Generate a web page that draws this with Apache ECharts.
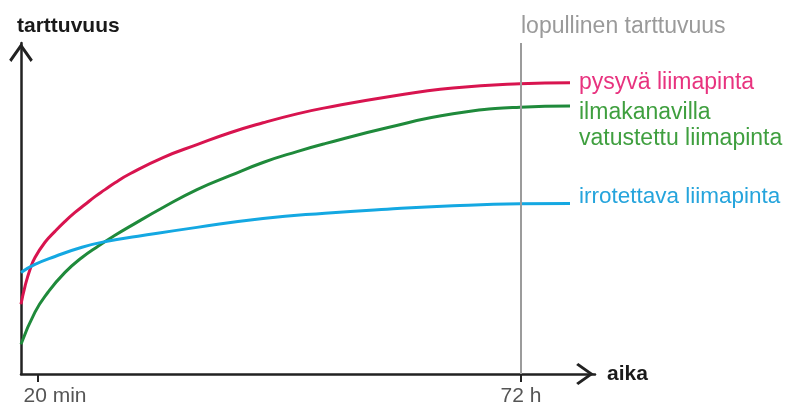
<!DOCTYPE html>
<html>
<head>
<meta charset="utf-8">
<script src="https://cdn.jsdelivr.net/npm/echarts@6/dist/echarts.min.js"></script>
<style>
html,body{margin:0;padding:0;background:#fff;}
#chart{width:785px;height:407px;}
</style>
</head>
<body>
<div id="chart"></div>
<script>
// ---- data ----
const seriesNames = ['pysyvä liimapinta', 'ilmakanavilla\nvatustettu liimapinta', 'irrotettava liimapinta'];

const xRed   = [0, 0.8, 1.8, 2.8, 4.8, 6.8, 8.8, 10.8, 12.8, 14.8, 16.8, 18.8, 21.8, 28.4, 35.2, 41.8, 48.4, 55.2, 60.8, 73.2, 86.4, 99.8, 109.8];
const yRed   = [21.1, 26.5, 31.6, 35.2, 39.8, 43.1, 46.1, 48.8, 51.2, 53.6, 55.7, 57.8, 60.5, 65.4, 69.3, 72.9, 75.9, 78.6, 80.4, 83.7, 86.4, 87.7, 88.0];

const xGreen = [0, 2.8, 5.4, 8.8, 12.2, 15.4, 18.8, 21.8, 28.4, 35.2, 41.8, 48.4, 55.2, 60.8, 73.2, 86.4, 99.8, 109.8];
const yGreen = [9.0, 18.7, 24.7, 30.7, 35.2, 38.6, 41.9, 44.6, 50.3, 55.7, 59.9, 63.9, 67.2, 69.6, 74.4, 78.6, 80.6, 81.0];

const xBlue  = [0, 2.8, 6.8, 12.2, 17.2, 23.4, 35.2, 48.4, 60.8, 73.2, 86.4, 99.8, 109.8];
const yBlue  = [30.7, 33.1, 35.5, 38.3, 40.1, 41.6, 44.3, 47.0, 48.6, 49.8, 50.8, 51.4, 51.5];

const tickValues = [3.4, 100];
const tickLabels = ['20 min', '72 h'];
const finalValue = 100;            // 72 h
const finalLabel = 'lopullinen tarttuvuus';
const xName = 'aika';
const yName = 'tarttuvuus';

// ---- helpers ----
function pairs(xs, ys){ return xs.map((x,i)=>[x, ys[i]]); }
const FONT = '"Liberation Sans", Arial, Helvetica, sans-serif';
const chevron = 'path://M0,17 L12,0 L24,17 L21.8,19.3 L12,5.4 L2.2,19.3 Z';

const chart = echarts.init(document.getElementById('chart'), null, {renderer:'canvas'});
const option = {
  animation: false,
  backgroundColor: '#ffffff',
  textStyle: {fontFamily: FONT},
  title: {
    text: finalLabel,
    left: 521, top: 15, padding: 0,
    textStyle: {fontFamily: FONT, fontSize: 23, fontWeight: 'normal', color: '#9a9a9a'}
  },
  grid: {left: 21, right: 190, top: 43, bottom: 32, containLabel: false},
  xAxis: {
    type: 'value', min: 0, max: 114.8,
    name: xName, nameLocation: 'end', nameGap: 12,
    nameTextStyle: {fontFamily: FONT, fontSize: 21, fontWeight: 'bold', color: '#1a1a1a', align: 'left', verticalAlign: 'middle'},
    axisLine: {show: true, lineStyle: {color: '#222', width: 2.5}, symbol: ['none', chevron], symbolSize: [22, 20], symbolOffset: [0, -10]},
    axisTick: {show: true, customValues: tickValues, length: 8, lineStyle: {color: '#222', width: 2}},
    axisLabel: {
      show: true, customValues: tickValues, margin: 12, color: '#555', fontSize: 21, fontFamily: FONT,
      formatter: function(v){
        const i = tickValues.indexOf(v);
        const t = i >= 0 ? tickLabels[i] : '';
        return i === 0 ? '{a|' + t + '}' : t;
      },
      rich: {a: {padding: [0, 0, 0, 34], color: '#555', fontSize: 21, fontFamily: FONT}}
    },
    splitLine: {show: false}
  },
  yAxis: {
    type: 'value', min: 0, max: 100,
    name: yName, nameLocation: 'end', nameGap: 6,
    nameTextStyle: {fontFamily: FONT, fontSize: 21, fontWeight: 'bold', color: '#1a1a1a', align: 'left', verticalAlign: 'bottom', padding: [0, 0, 0, -4]},
    axisLine: {show: true, lineStyle: {color: '#222', width: 2.5}, symbol: ['none', chevron], symbolSize: [24, 19], symbolOffset: [0, -9.5]},
    axisTick: {show: false},
    axisLabel: {show: false},
    splitLine: {show: false}
  },
  series: [
    {
      name: seriesNames[0], type: 'line', smooth: 0.5, symbol: 'none',
      data: pairs(xRed, yRed),
      lineStyle: {color: '#d8144f', width: 3},
      itemStyle: {color: '#d8144f'},
      endLabel: {show: true, formatter: seriesNames[0], color: '#e8337f', fontSize: 23, fontFamily: FONT, distance: 9, offset: [0, 0]},
      markLine: {
        silent: true, symbol: ['none', 'none'],
        lineStyle: {color: '#9b9b9b', width: 2, type: 'solid'},
        label: {show: false},
        data: [{xAxis: finalValue}]
      },
      z: 3
    },
    {
      name: seriesNames[1], type: 'line', smooth: 0.5, symbol: 'none',
      data: pairs(xGreen, yGreen),
      lineStyle: {color: '#1f8a3b', width: 3},
      itemStyle: {color: '#1f8a3b'},
      endLabel: {show: true, formatter: seriesNames[1], color: '#3f9f3f', fontSize: 23, lineHeight: 26, fontFamily: FONT, distance: 9, offset: [0, 20]},
      z: 3
    },
    {
      name: seriesNames[2], type: 'line', smooth: 0.5, symbol: 'none',
      data: pairs(xBlue, yBlue),
      lineStyle: {color: '#14a8e2', width: 3},
      itemStyle: {color: '#14a8e2'},
      endLabel: {show: true, formatter: seriesNames[2], color: '#25a4dc', fontSize: 22.5, fontFamily: FONT, distance: 9, offset: [0, -7]},
      z: 3
    }
  ]
};
chart.setOption(option);
</script>
</body>
</html>
